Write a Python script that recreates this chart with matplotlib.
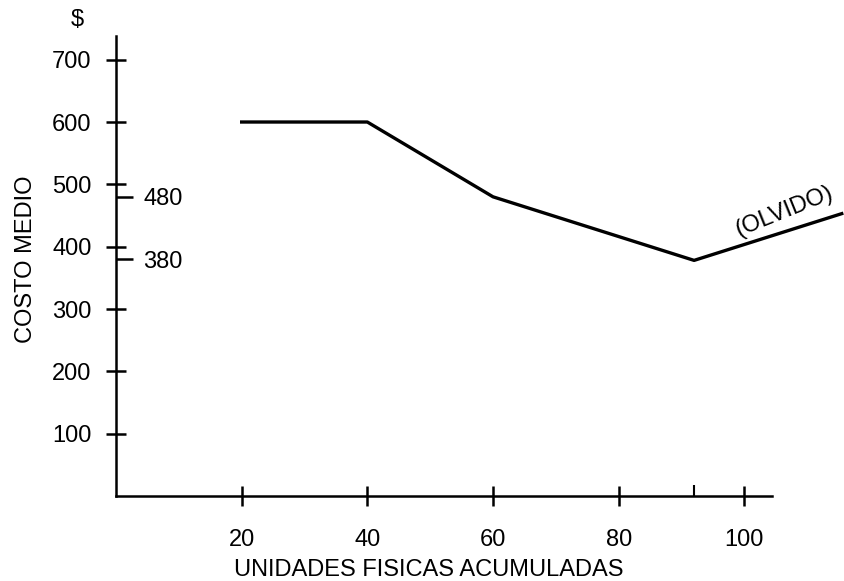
import matplotlib
matplotlib.use("Agg")
import matplotlib.pyplot as plt
from matplotlib.ticker import FixedLocator, FixedFormatter

plt.rcParams['font.family'] = ['Liberation Sans', 'DejaVu Sans']

# Data
units = [20, 40, 60, 92, 115.5]
avg_cost = [600, 600, 480, 378, 453]
x_ticks = [20, 40, 60, 80, 100]
x_ticklabels = ['20', '40', '60', '80', '100']
y_ticks = [100, 200, 300, 400, 500, 600, 700]
y_ticklabels = ['100', '200', '300', '400', '500', '600', '700']
y_marks = [380, 480]
y_marklabels = ['380', '480']
x_mark = [92]

FS = 17

fig = plt.figure(figsize=(8.45, 5.81), dpi=100)
ax = fig.add_axes([116/845, 1-496/581, (772-116)/845, (496-36)/581])

ax.plot(units, avg_cost, color='black', lw=2.4, clip_on=False, solid_joinstyle='round')

ax.set_xlim(0, 104.4)
ax.set_ylim(0, 738)

for s in ['top', 'right']:
    ax.spines[s].set_visible(False)
for s in ['left', 'bottom']:
    ax.spines[s].set_linewidth(1.8)

ax.xaxis.set_major_locator(FixedLocator(x_ticks))
ax.xaxis.set_major_formatter(FixedFormatter(x_ticklabels))
ax.yaxis.set_major_locator(FixedLocator(y_ticks))
ax.yaxis.set_major_formatter(FixedFormatter(y_ticklabels))
ax.yaxis.set_minor_locator(FixedLocator(y_marks))
ax.yaxis.set_minor_formatter(FixedFormatter(y_marklabels))
ax.xaxis.set_minor_locator(FixedLocator(x_mark))

ax.tick_params(axis='both', which='major', direction='inout', length=15, width=1.8,
               labelsize=FS, colors='black')
ax.tick_params(axis='y', which='major', pad=10)
ax.tick_params(axis='x', which='major', pad=16)
ax.tick_params(axis='y', which='minor', direction='in', length=12, width=1.8,
               pad=-48, labelsize=FS)
ax.tick_params(axis='x', which='minor', direction='in', length=8, width=1.5,
               labelbottom=False)

ax.set_xlabel('UNIDADES FISICAS ACUMULADAS', fontsize=FS)
ax.set_ylabel('COSTO MEDIO', fontsize=FS)
ax.xaxis.set_label_coords(0.476, -0.137)
ax.yaxis.set_label_coords(-0.120, 0.515)

ax.text(-6.2, 764, '$', fontsize=FS, ha='center', va='center')
ax.text(106.3, 457, '(OLVIDO)', fontsize=FS, ha='center', va='center',
        rotation=22, rotation_mode='anchor')

fig.savefig('out.png', dpi=100)
